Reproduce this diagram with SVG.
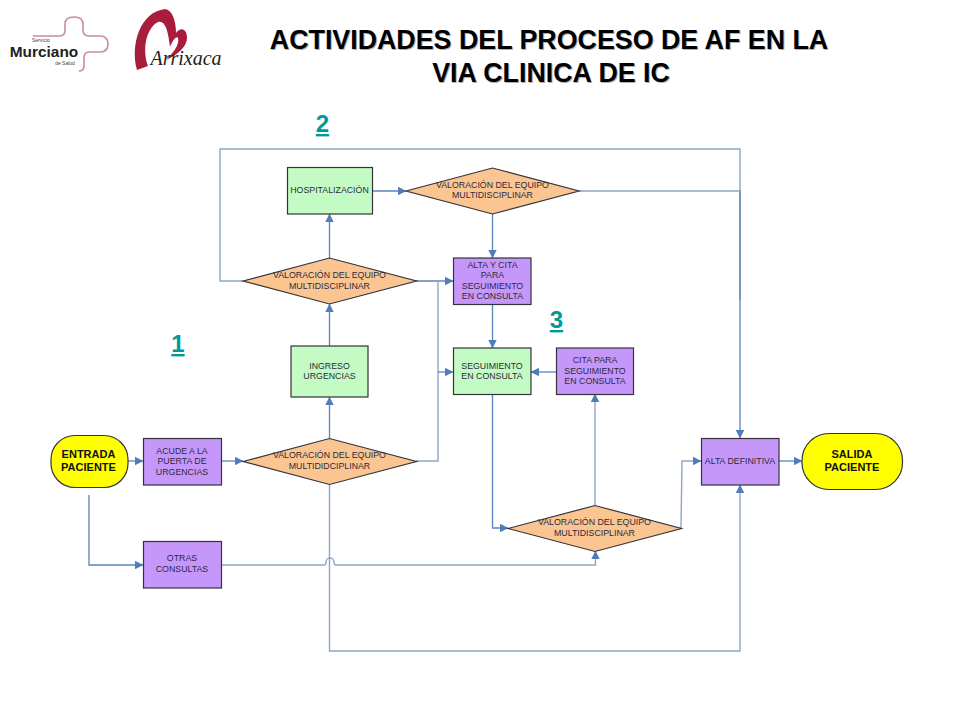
<svg xmlns="http://www.w3.org/2000/svg" width="960" height="720" viewBox="0 0 960 720">
<defs>
<style>
text{font-family:"Liberation Sans",Arial,sans-serif;text-anchor:middle}
.t{font-size:8.8px;fill:#2c2a3c}
.b{font-size:11px;font-weight:bold;fill:#111}
.title{font-size:26.800px;font-weight:bold;fill:#000}
.shadow{font-size:26.800px;font-weight:bold;fill:#b0b0b0}
.num{font-size:24px;font-weight:bold;fill:#009a9a;text-decoration:underline}
.box{stroke:#33333a;stroke-width:1.2}
.g{fill:#c4fbc4}.p{fill:#c697fb}.o{fill:#fbc592}.y{fill:#ffff00}
.c{fill:none;stroke:#8fa6c6;stroke-width:1.4}
.d{fill:none;stroke:#5b83bb;stroke-width:1.3}
</style>
<marker id="a" viewBox="0 0 10 10" refX="9.500" refY="5" markerWidth="8.500" markerHeight="8.500" markerUnits="userSpaceOnUse" orient="auto"><path d="M0 0L10 5L0 10z" fill="#4f7cba"/></marker>
</defs>
<rect width="960" height="720" fill="#fff"/>
<g id="logo-murciano">
<path d="M33 36H60Q65 36 65 30V24Q65 17 74 17Q83 17 83 24V30Q83 36 89 36H100Q108 36 108 44Q108 52 100 52H89Q84 52 84 58V66Q84 71 79 71" fill="none" stroke="#c98c9c" stroke-width="1.6"/>
<text x="41" y="41.500" style="font-size:5px;fill:#444">Servicio</text>
<text x="44" y="57" style="font-size:15.400px;font-weight:bold;fill:#222">Murciano</text>
<text x="65" y="65" style="font-size:5px;fill:#444">de Salud</text>
</g>
<g id="logo-arrixaca">
<path d="M137 70C130 45 140 12 165 9C172 10 176 20 176 33C180 27 187 28 187 38C187 47 177 55 166 60C172 54 180 45 178 38C176 35 172 42 170 47C168 30 165 20 158 22C146 28 142 50 148 66Z" fill="#a81c3c"/>
<text x="186" y="65" style="font-family:'Liberation Serif',serif;font-size:20px;font-style:italic;fill:#222">Arrixaca</text>
</g>
<g id="title">
<text class="shadow" x="550" y="50">ACTIVIDADES DEL PROCESO DE AF EN LA</text>
<text class="title" x="549" y="49">ACTIVIDADES DEL PROCESO DE AF EN LA</text>
<text class="shadow" x="552" y="83">VIA CLINICA DE IC</text>
<text class="title" x="551" y="82">VIA CLINICA DE IC</text>
</g>
<g id="numbers">
<text class="num" x="322.500" y="132">2</text>
<text class="num" x="556.500" y="328">3</text>
<text class="num" x="178" y="352">1</text>
</g>
<g id="connectors">
<path class="c" d="M243 281H220V149H740V300"/>
<path class="d" d="M740 190V438" marker-end="url(#a)"/>
<path class="c" d="M579 191H740"/>
<path class="d" d="M372 191H406" marker-end="url(#a)"/>
<path class="d" d="M492.500 214V258" marker-end="url(#a)"/>
<path class="d" d="M329.500 258V214" marker-end="url(#a)"/>
<path class="d" d="M416 281H453" marker-end="url(#a)"/>
<path class="c" d="M438 281V461H416"/>
<path class="d" d="M438 372H453" marker-end="url(#a)"/>
<path class="d" d="M329.500 346V304" marker-end="url(#a)"/>
<path class="d" d="M329.500 438V397" marker-end="url(#a)"/>
<path class="d" d="M492.500 304V348" marker-end="url(#a)"/>
<path class="d" d="M556 372H531" marker-end="url(#a)"/>
<path class="d" d="M128 461H143" marker-end="url(#a)"/>
<path class="d" d="M221 461H243" marker-end="url(#a)"/>
<path class="d" d="M89 495V565H143" marker-end="url(#a)"/>
<path class="c" d="M221 565H324Q326 565 326 562A4 4 0 0 1 334 562Q334 565 336 565H595.500V551" marker-end="url(#a)"/>
<path class="c" d="M329.500 485V651H740V485" marker-end="url(#a)"/>
<path class="d" d="M492.500 394V528H508" marker-end="url(#a)"/>
<path class="c" d="M595 505V394" marker-end="url(#a)"/>
<path class="c" d="M681 528L682 461H701" marker-end="url(#a)"/>
<path class="d" d="M779 461H802" marker-end="url(#a)"/>
</g>
<g id="entrada"><rect class="box y" x="51" y="435.500" width="77" height="52" rx="24"/><text class="b" x="88.500" y="458">ENTRADA</text><text class="b" x="88.500" y="471">PACIENTE</text></g>
<g id="acude"><rect class="box p" x="143.500" y="438.500" width="78" height="46.500"/><text class="t" x="182" y="454">ACUDE A LA</text><text class="t" x="182" y="464">PUERTA DE</text><text class="t" x="182" y="475">URGENCIAS</text></g>
<g id="otras"><rect class="box p" x="143.500" y="541.500" width="78" height="46.500"/><text class="t" x="182" y="561">OTRAS</text><text class="t" x="182" y="572">CONSULTAS</text></g>
<g id="val1"><path class="box o" d="M243 461.500L329.500 438.500L416.500 461.500L329.500 484.500Z"/><text class="t" x="329.500" y="458">VALORACIÓN DEL EQUIPO</text><text class="t" x="329.500" y="469">MULTIDIDCIPLINAR</text></g>
<g id="ingreso"><rect class="box g" x="291" y="346" width="77" height="51"/><text class="t" x="329.500" y="369">INGRESO</text><text class="t" x="329.500" y="379">URGENCIAS</text></g>
<g id="val2"><path class="box o" d="M243 281L329.500 258L416.500 281L329.500 304Z"/><text class="t" x="329.500" y="278">VALORACIÓN DEL EQUIPO</text><text class="t" x="329.500" y="289">MULTIDISCIPLINAR</text></g>
<g id="hospitalizacion"><rect class="box g" x="287.500" y="167.500" width="85" height="46.500"/><text class="t" x="329.500" y="193">HOSPITALIZACIÓN</text></g>
<g id="val3"><path class="box o" d="M406 191L492.500 168L579 191L492.500 214Z"/><text class="t" x="492.500" y="188">VALORACIÓN DEL EQUIPO</text><text class="t" x="492.500" y="198">MULTIDISCIPLINAR</text></g>
<g id="alta-cita"><rect class="box p" x="453.500" y="258" width="77.500" height="46.500"/><text class="t" x="492.500" y="268">ALTA Y CITA</text><text class="t" x="492.500" y="278">PARA</text><text class="t" x="492.500" y="289">SEGUIMIENTO</text><text class="t" x="492.500" y="299">EN CONSULTA</text></g>
<g id="seguimiento"><rect class="box g" x="453.500" y="348" width="77.500" height="46.500"/><text class="t" x="492" y="369">SEGUIMIENTO</text><text class="t" x="492" y="379">EN CONSULTA</text></g>
<g id="cita"><rect class="box p" x="556.500" y="348" width="77" height="46.500"/><text class="t" x="595" y="363">CITA PARA</text><text class="t" x="595" y="374">SEGUIMIENTO</text><text class="t" x="595" y="384">EN CONSULTA</text></g>
<g id="val4"><path class="box o" d="M508 528.500L595 505.500L681.500 528.500L595 551.500Z"/><text class="t" x="594.500" y="525">VALORACIÓN DEL EQUIPO</text><text class="t" x="594.500" y="536">MULTIDISCIPLINAR</text></g>
<g id="alta-definitiva"><rect class="box p" x="701.500" y="438.500" width="77.500" height="46.500"/><text class="t" x="740" y="464">ALTA DEFINITIVA</text></g>
<g id="salida"><rect class="box y" x="802" y="433.500" width="100.500" height="56" rx="27"/><text class="b" x="852" y="458">SALIDA</text><text class="b" x="852" y="471">PACIENTE</text></g>
</svg>
